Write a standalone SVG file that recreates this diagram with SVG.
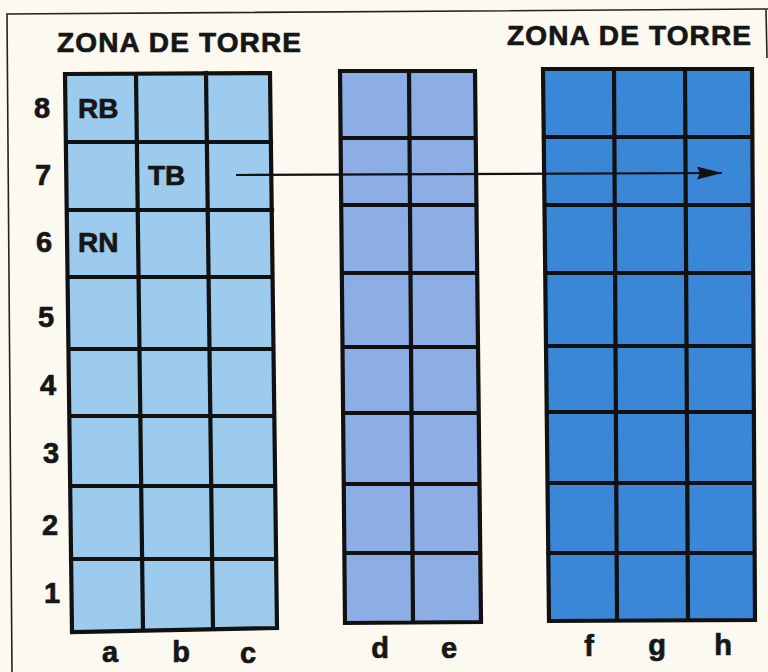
<svg xmlns="http://www.w3.org/2000/svg" width="768" height="672" viewBox="0 0 768 672">
<style>
.t{font-family:"Liberation Sans",Arial,sans-serif;font-weight:bold;fill:#161616;stroke:#161616;stroke-width:0.7;stroke-linejoin:round}
.title{font-size:28px}
.lab{font-size:28px}
.num{font-size:29px;text-anchor:middle}
.grid{stroke:#111;stroke-width:4.2;fill:none;stroke-linecap:square;stroke-linejoin:miter}
.frame{stroke:#222;stroke-width:1.6;fill:none}
</style>
<defs>
<marker id="ah" markerWidth="28" markerHeight="14" refX="25" refY="6.5" orient="auto" markerUnits="userSpaceOnUse">
<path d="M0,0 L25,6.5 L0,13 L3,6.5 Z" fill="#111"/>
</marker>
</defs>
<rect width="768" height="672" fill="#fbf9f0"/>
<g id="frame">
<path class="frame" d="M12,672 L7,14 L768,9"/>
<path class="frame" d="M766,10 L767,58"/>
</g>
<g id="titles">
<text class="t title" x="57" y="52" textLength="244" lengthAdjust="spacing">ZONA DE TORRE</text>
<text class="t title" x="507" y="45" textLength="244" lengthAdjust="spacing">ZONA DE TORRE</text>
</g>
<g id="grid-abc">
<polygon points="65,74 270,73 277,628 72,632" fill="#9ccbee"/>
<path class="grid" d="M65,74 L270,73 L277,628 L72,632 Z M136,74 L143,630 M206,73 L213,629 M66,142 L271,142 M67,210 L272,210 M67.5,277 L272.5,277 M68.5,349 L273.5,349 M69.3,416 L274.3,416 M70.2,486 L275.2,486 M71,559 L276,559"/>
</g>
<g id="grid-de">
<polygon points="340,71 475,71 481,622 345,623" fill="#8daee5"/>
<path class="grid" d="M340,71 L475,71 L481,622 L345,623 Z M409,71 L413,622 M340.6,138 L475.7,138 M341.2,205 L476.5,205 M341.8,273 L477.2,273 M342.5,347 L478,347 M343.1,413 L478.7,413 M343.8,484 L479.5,484 M344.4,553 L480.2,553"/>
</g>
<g id="grid-fgh">
<polygon points="543,69 752,69 755,620 549,621" fill="#3a87d8"/>
<path class="grid" d="M543,69 L752,69 L755,620 L549,621 Z M614,69 L617,620 M685,69 L688,620 M543.7,137 L752.4,137 M544.5,205 L752.7,205 M545.2,273 L753.1,273 M546,346 L753.5,346 M546.7,412 L753.9,412 M547.5,483 L754.3,483 M548.2,553 L754.6,553"/>
</g>
<g id="rows">
<text class="t num" x="42" y="118">8</text>
<text class="t num" x="43" y="185">7</text>
<text class="t num" x="44" y="252">6</text>
<text class="t num" x="46" y="327">5</text>
<text class="t num" x="48" y="395">4</text>
<text class="t num" x="51" y="463">3</text>
<text class="t num" x="50" y="535">2</text>
<text class="t num" x="52" y="603">1</text>
</g>
<g id="cols">
<text class="t num" x="110" y="662">a</text>
<text class="t num" x="181" y="662">b</text>
<text class="t num" x="248" y="663">c</text>
<text class="t num" x="380" y="658">d</text>
<text class="t num" x="449" y="658">e</text>
<text class="t num" x="589" y="656">f</text>
<text class="t num" x="657" y="655">g</text>
<text class="t num" x="723" y="655">h</text>
</g>
<g id="pieces">
<text class="t lab" x="78" y="118">RB</text>
<text class="t lab" x="148" y="185">TB</text>
<text class="t lab" x="78" y="252">RN</text>
</g>
<g id="connectors">
<line x1="236" y1="175" x2="722" y2="173" stroke="#111" stroke-width="2.2" marker-end="url(#ah)"/>
</g>
</svg>
